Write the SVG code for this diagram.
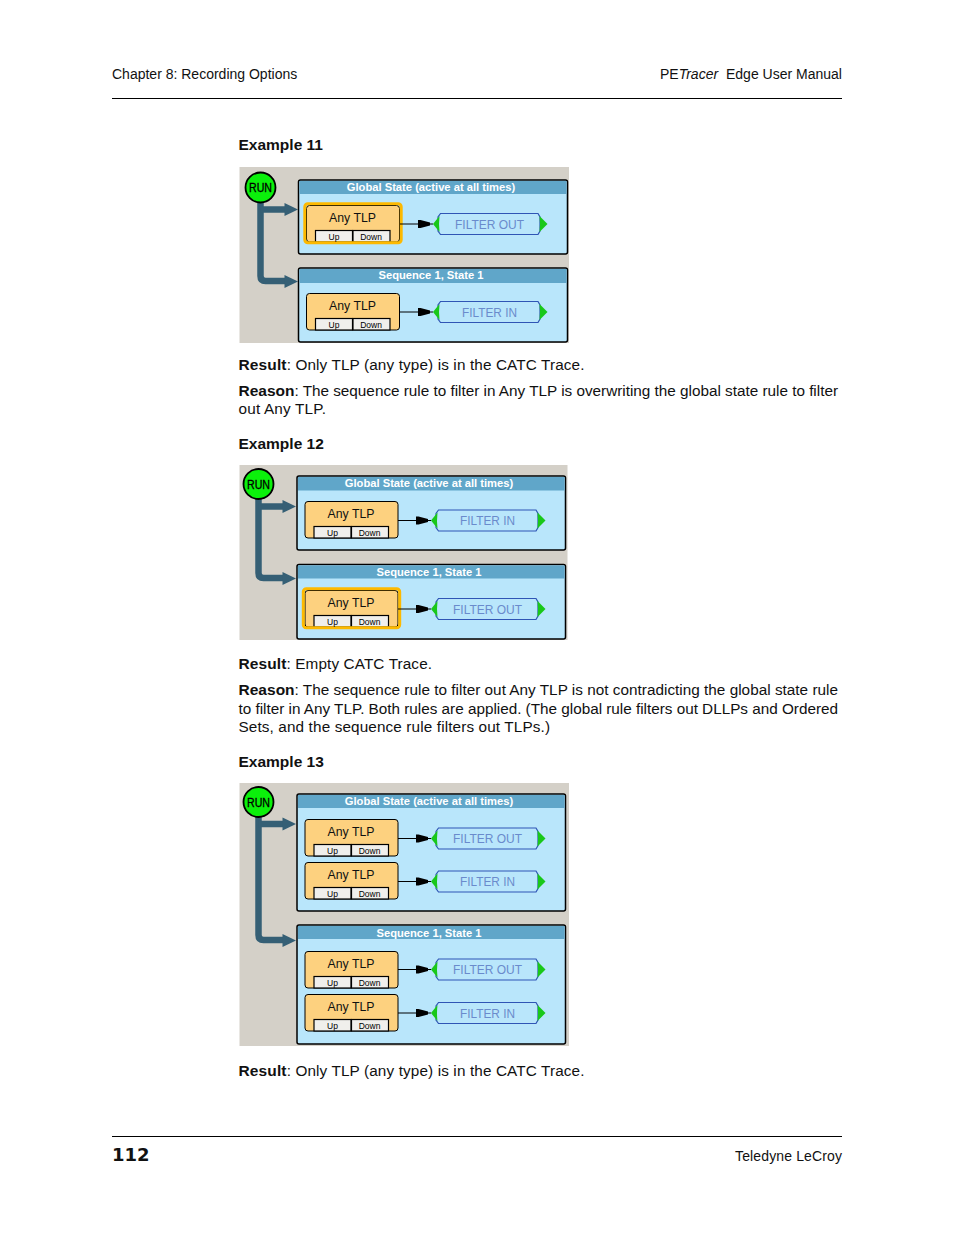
<svg xmlns="http://www.w3.org/2000/svg" width="954" height="1235" viewBox="0 0 954 1235">
<style>
text{font-family:"Liberation Sans",Arial,sans-serif}
.p{font-size:14px;fill:#111}
.b{font-size:15.300px;fill:#111}
.h{font-size:15.500px;font-weight:bold;fill:#111}
.bg{fill:#d4d0c8}
.panel{fill:#b9e6fb;stroke:#000;stroke-width:1.500}
.hdr{fill:#60a6c9}
.ht{font-size:11.200px;font-weight:bold;fill:#fff;text-anchor:middle}
.blk{fill:#fdd17f;stroke:#000;stroke-width:1}
.sel{fill:none;stroke:#fdb900;stroke-width:3}
.btn{fill:#f0efec;stroke:#000;stroke-width:1.200}
.bt{font-size:8.500px;fill:#000;text-anchor:middle}
.tlp{font-size:13px;fill:#111;text-anchor:middle}
.flt{fill:#b9e6fb;stroke:#2f55b5;stroke-width:1.200}
.ft{font-size:13px;fill:#6a8bcc;text-anchor:middle}
.tri{fill:#19c819}
.run{fill:#0bf00b;stroke:#000;stroke-width:1.800}
.rt{font-size:12px;fill:#000;stroke:#000;stroke-width:.3;text-anchor:middle}
.tr{fill:none;stroke:#355f75;stroke-width:6.500;stroke-linejoin:round}
.ah{fill:#355f75}
.w{stroke:#000;stroke-width:1;fill:none}
.wh{fill:#000}
.rule{stroke:#000;stroke-width:1}
</style>
<defs>
<g id="block"><rect class="blk" x="0.500" y="0.500" width="93" height="36.500" rx="3"/><rect class="btn" x="9.500" y="25.500" width="37" height="11.500"/><rect class="btn" x="47" y="25.500" width="37" height="11.500"/></g>
<g id="filter"><path class="flt" d="M7.500 -10.500H105L107 -7V7L105 10.500H7.500L5 7V-7Z"/><path class="tri" d="M0 0L6.500 -8Q5.500 0 6.500 8Z"/><path class="tri" d="M106.500 -8L114.500 0L106.500 8Q107.500 0 106.500 -8Z"/></g>
<g id="wire"><path class="w" d="M0 0H33"/><path class="wh" d="M18 -4H20.500L30 -1.500V1.500L20.500 4H18Z"/></g>
<path id="ahead" class="ah" d="M0 -6.500L13.500 0L0 6.500Z"/>
</defs>

<g id="page-header">
<text class="p" x="112" y="79">Chapter 8: Recording Options</text>
<text class="p" x="660" y="79">PE<tspan font-style="italic">Tracer</tspan><tspan x="726">Edge User Manual</tspan></text>
<line class="rule" x1="112" y1="98.500" x2="842" y2="98.500"/>
</g>

<text class="h" x="238.500" y="150">Example 11</text>
<rect class="bg" id="ex11-bg" x="239.500" y="167" width="329.500" height="176"/>
<g id="ex11-trunk"><path class="tr" d="M260.500 200V276Q260.500 281 265.500 281H285"/><path class="tr" d="M260.500 209.500H285"/><use href="#ahead" x="284.500" y="209.500"/><use href="#ahead" x="284.500" y="281.500"/></g>
<g id="ex11-run"><circle class="run" cx="260.500" cy="187.500" r="15"/><text class="rt" x="260.500" y="192" textLength="23" lengthAdjust="spacingAndGlyphs">RUN</text></g>
<g id="ex11-global"><rect class="panel" x="298.500" y="180" width="269" height="74" rx="2"/><rect class="hdr" x="299.500" y="181" width="267" height="13"/><text class="ht" x="431" y="191">Global State (active at all times)</text></g>
<g id="ex11-seq"><rect class="panel" x="298.500" y="268" width="269" height="74" rx="2"/><rect class="hdr" x="299.500" y="269" width="267" height="14"/><text class="ht" x="431" y="279">Sequence 1, State 1</text></g>
<g id="ex11-tlp1" transform="translate(306,205)"><use href="#block"/><rect class="sel" x="-1.200" y="-1.200" width="96.400" height="39" rx="3"/><text class="tlp" x="46.500" y="17" textLength="47" lengthAdjust="spacingAndGlyphs">Any TLP</text><text class="bt" x="28" y="35">Up</text><text class="bt" x="65" y="35">Down</text></g>
<g id="ex11-f1" transform="translate(433,224)"><use href="#filter"/><text class="ft" x="56.500" y="4.500" textLength="69" lengthAdjust="spacingAndGlyphs">FILTER OUT</text></g>
<g id="ex11-tlp2" transform="translate(306,293)"><use href="#block"/><text class="tlp" x="46.500" y="17" textLength="47" lengthAdjust="spacingAndGlyphs">Any TLP</text><text class="bt" x="28" y="35">Up</text><text class="bt" x="65" y="35">Down</text></g>
<g id="ex11-f2" transform="translate(433,312)"><use href="#filter"/><text class="ft" x="56.500" y="4.500" textLength="55" lengthAdjust="spacingAndGlyphs">FILTER IN</text></g>
<g id="ex11-connectors"><use href="#wire" x="400" y="224"/><use href="#wire" x="400" y="312"/></g>

<text class="b" x="238.500" y="370" textLength="346"><tspan class="h">Result</tspan>: Only TLP (any type) is in the CATC Trace.</text>
<text class="b" x="238.500" y="396" textLength="599.500"><tspan class="h">Reason</tspan>: The sequence rule to filter in Any TLP is overwriting the global state rule to filter</text>
<text class="b" x="238.500" y="414" textLength="87.500">out Any TLP.</text>

<text class="h" x="238.500" y="449">Example 12</text>
<rect class="bg" id="ex12-bg" x="239.500" y="465" width="328" height="175"/>
<g id="ex12-trunk"><path class="tr" d="M258.500 497V573Q258.500 578 263.500 578H283"/><path class="tr" d="M258.500 506.500H283"/><use href="#ahead" x="282.500" y="506.500"/><use href="#ahead" x="282.500" y="578.500"/></g>
<g id="ex12-run"><circle class="run" cx="258.500" cy="484" r="15"/><text class="rt" x="258.500" y="488.500" textLength="23" lengthAdjust="spacingAndGlyphs">RUN</text></g>
<g id="ex12-global"><rect class="panel" x="297" y="476" width="268.500" height="74" rx="2"/><rect class="hdr" x="298" y="477" width="266.500" height="13.500"/><text class="ht" x="429" y="487">Global State (active at all times)</text></g>
<g id="ex12-seq"><rect class="panel" x="297" y="564.500" width="268.500" height="74.500" rx="2"/><rect class="hdr" x="298" y="565.500" width="266.500" height="13"/><text class="ht" x="429" y="576">Sequence 1, State 1</text></g>
<g id="ex12-tlp1" transform="translate(304.500,501)"><use href="#block"/><text class="tlp" x="46.500" y="17" textLength="47" lengthAdjust="spacingAndGlyphs">Any TLP</text><text class="bt" x="28" y="35">Up</text><text class="bt" x="65" y="35">Down</text></g>
<g id="ex12-f1" transform="translate(431,520.500)"><use href="#filter"/><text class="ft" x="56.500" y="4.500" textLength="55" lengthAdjust="spacingAndGlyphs">FILTER IN</text></g>
<g id="ex12-tlp2" transform="translate(304.500,590)"><use href="#block"/><rect class="sel" x="-1.200" y="-1.200" width="96.400" height="39" rx="3"/><text class="tlp" x="46.500" y="17" textLength="47" lengthAdjust="spacingAndGlyphs">Any TLP</text><text class="bt" x="28" y="35">Up</text><text class="bt" x="65" y="35">Down</text></g>
<g id="ex12-f2" transform="translate(431,609)"><use href="#filter"/><text class="ft" x="56.500" y="4.500" textLength="69" lengthAdjust="spacingAndGlyphs">FILTER OUT</text></g>
<g id="ex12-connectors"><use href="#wire" x="398" y="520.500"/><use href="#wire" x="398" y="609"/></g>

<text class="b" x="238.500" y="669" textLength="193.500"><tspan class="h">Result</tspan>: Empty CATC Trace.</text>
<text class="b" x="238.500" y="695" textLength="599.500"><tspan class="h">Reason</tspan>: The sequence rule to filter out Any TLP is not contradicting the global state rule</text>
<text class="b" x="238.500" y="714" textLength="599.500">to filter in Any TLP. Both rules are applied. (The global rule filters out DLLPs and Ordered</text>
<text class="b" x="238.500" y="732" textLength="311.500">Sets, and the sequence rule filters out TLPs.)</text>

<text class="h" x="238.500" y="767">Example 13</text>
<rect class="bg" id="ex13-bg" x="239.500" y="783" width="329.500" height="263"/>
<g id="ex13-trunk"><path class="tr" d="M258.500 815V935Q258.500 940 263.500 940H283"/><path class="tr" d="M258.500 824H283"/><use href="#ahead" x="282.500" y="824"/><use href="#ahead" x="282.500" y="940.500"/></g>
<g id="ex13-run"><circle class="run" cx="258.500" cy="802" r="15"/><text class="rt" x="258.500" y="806.500" textLength="23" lengthAdjust="spacingAndGlyphs">RUN</text></g>
<g id="ex13-global"><rect class="panel" x="297" y="794" width="268.500" height="117" rx="2"/><rect class="hdr" x="298" y="795" width="266.500" height="13"/><text class="ht" x="429" y="805">Global State (active at all times)</text></g>
<g id="ex13-seq"><rect class="panel" x="297" y="925" width="268.500" height="119" rx="2"/><rect class="hdr" x="298" y="926" width="266.500" height="13"/><text class="ht" x="429" y="937">Sequence 1, State 1</text></g>
<g id="ex13-tlp1" transform="translate(304.500,819)"><use href="#block"/><text class="tlp" x="46.500" y="17" textLength="47" lengthAdjust="spacingAndGlyphs">Any TLP</text><text class="bt" x="28" y="35">Up</text><text class="bt" x="65" y="35">Down</text></g>
<g id="ex13-f1" transform="translate(431,838.500)"><use href="#filter"/><text class="ft" x="56.500" y="4.500" textLength="69" lengthAdjust="spacingAndGlyphs">FILTER OUT</text></g>
<g id="ex13-tlp2" transform="translate(304.500,862)"><use href="#block"/><text class="tlp" x="46.500" y="17" textLength="47" lengthAdjust="spacingAndGlyphs">Any TLP</text><text class="bt" x="28" y="35">Up</text><text class="bt" x="65" y="35">Down</text></g>
<g id="ex13-f2" transform="translate(431,881.500)"><use href="#filter"/><text class="ft" x="56.500" y="4.500" textLength="55" lengthAdjust="spacingAndGlyphs">FILTER IN</text></g>
<g id="ex13-tlp3" transform="translate(304.500,951)"><use href="#block"/><text class="tlp" x="46.500" y="17" textLength="47" lengthAdjust="spacingAndGlyphs">Any TLP</text><text class="bt" x="28" y="35">Up</text><text class="bt" x="65" y="35">Down</text></g>
<g id="ex13-f3" transform="translate(431,969.500)"><use href="#filter"/><text class="ft" x="56.500" y="4.500" textLength="69" lengthAdjust="spacingAndGlyphs">FILTER OUT</text></g>
<g id="ex13-tlp4" transform="translate(304.500,994)"><use href="#block"/><text class="tlp" x="46.500" y="17" textLength="47" lengthAdjust="spacingAndGlyphs">Any TLP</text><text class="bt" x="28" y="35">Up</text><text class="bt" x="65" y="35">Down</text></g>
<g id="ex13-f4" transform="translate(431,1013)"><use href="#filter"/><text class="ft" x="56.500" y="4.500" textLength="55" lengthAdjust="spacingAndGlyphs">FILTER IN</text></g>
<g id="ex13-connectors"><use href="#wire" x="398" y="838.500"/><use href="#wire" x="398" y="881.500"/><use href="#wire" x="398" y="969.500"/><use href="#wire" x="398" y="1013"/></g>

<text class="b" x="238.500" y="1076" textLength="346"><tspan class="h">Result</tspan>: Only TLP (any type) is in the CATC Trace.</text>

<g id="page-footer">
<line class="rule" x1="112" y1="1136.500" x2="842" y2="1136.500"/>
<text x="112" y="1161" style="font-family:'DejaVu Sans',sans-serif;font-size:18px;font-weight:bold;fill:#111">112</text>
<text class="p" x="735" y="1161" textLength="107">Teledyne LeCroy</text>
</g>
</svg>
